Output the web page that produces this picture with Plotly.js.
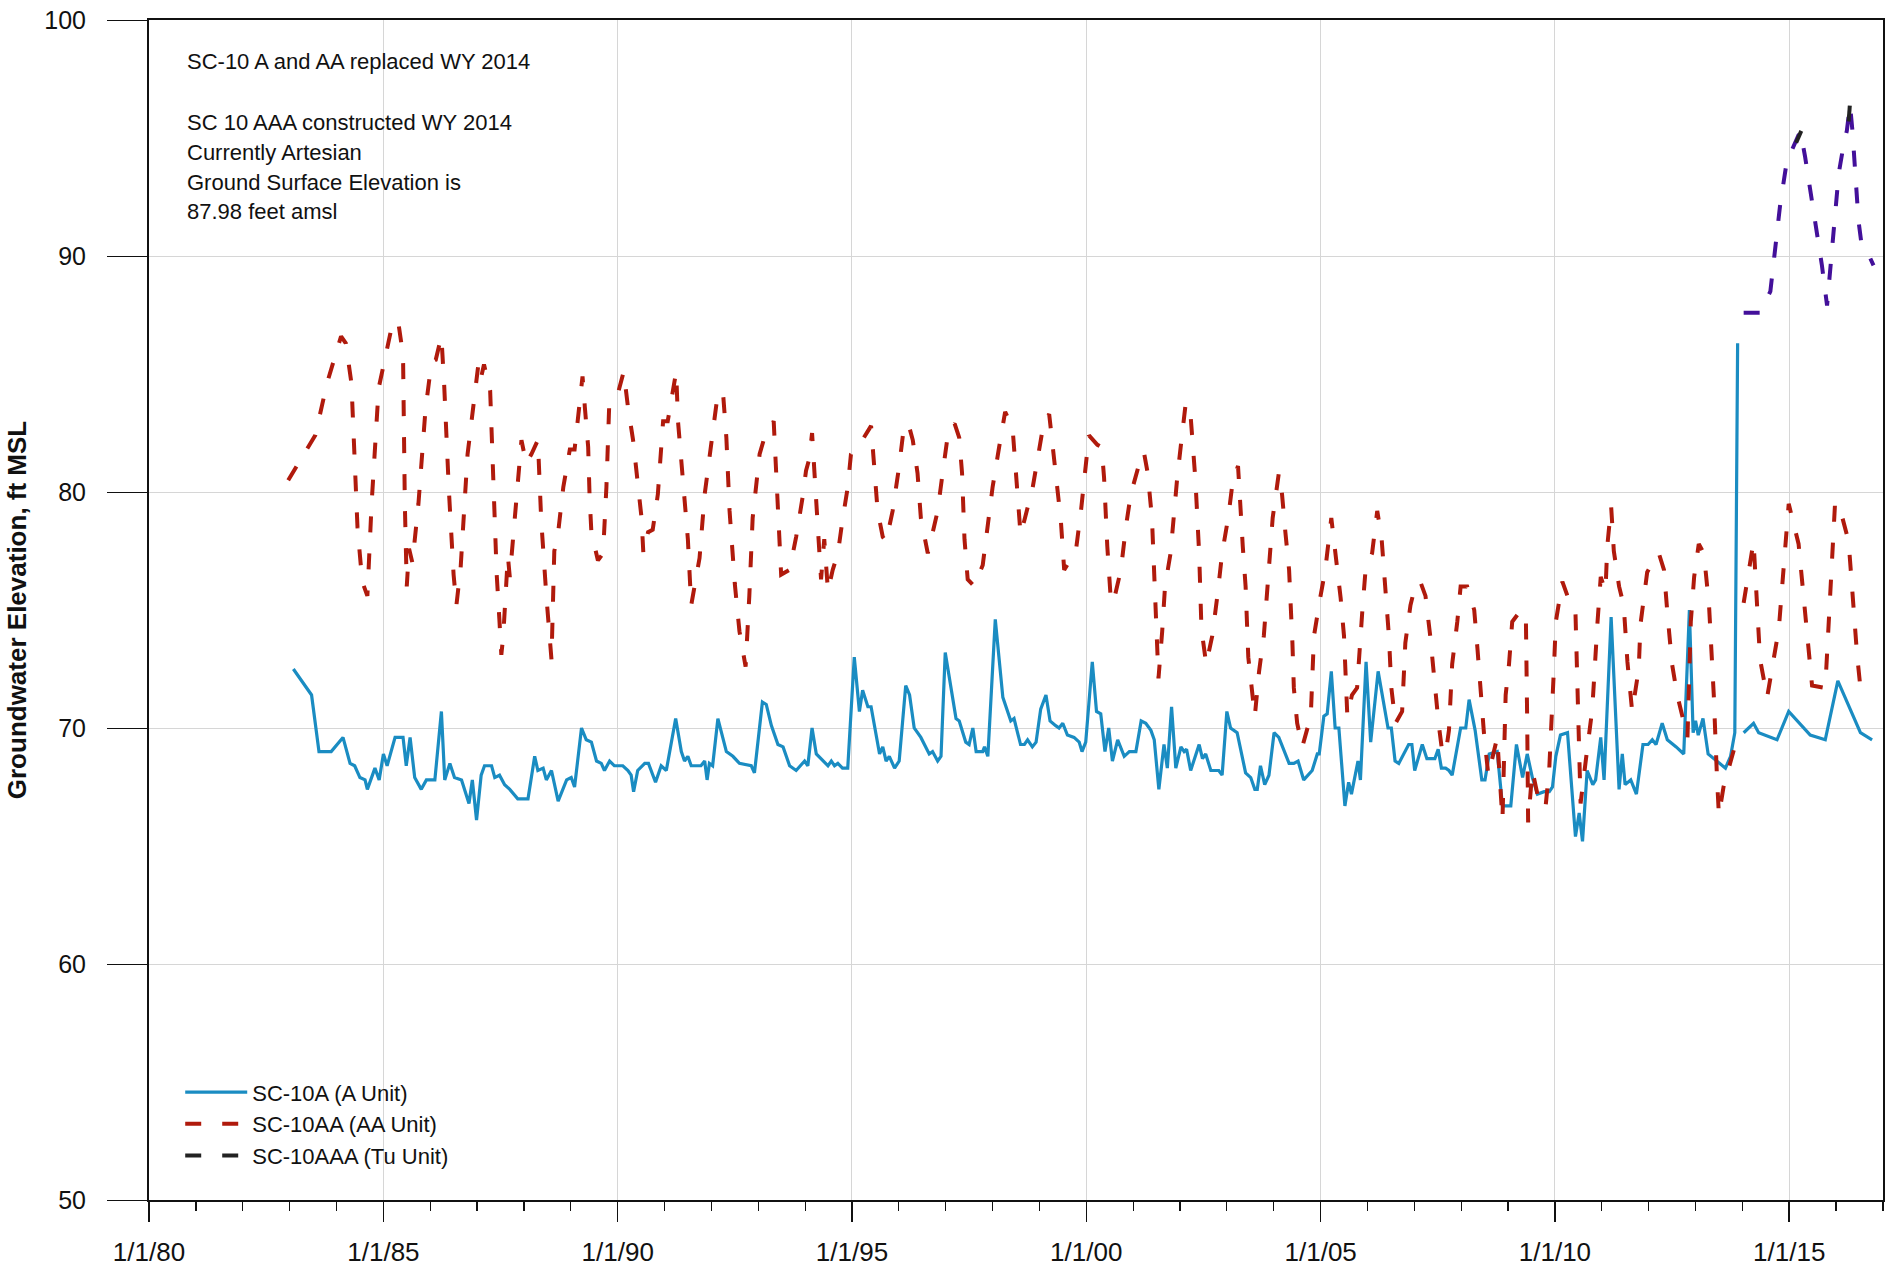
<!DOCTYPE html>
<html>
<head>
<meta charset="utf-8">
<script src="https://cdn.plot.ly/plotly-3.0.1.min.js"></script>
<style>
  html, body { margin: 0; padding: 0; background: #ffffff; }
  #chart { width: 1887px; height: 1275px; }
</style>
</head>
<body>
<div id="chart"></div>
<script>
// Well SC-10A (A Unit): decimal year / groundwater elevation (ft MSL)
const aYears = [
  1983.08, 1983.47, 1983.63, 1983.89, 1984.14, 1984.29, 1984.39, 1984.50, 1984.61, 1984.66,
  1984.82, 1984.91, 1985.00, 1985.08, 1985.25, 1985.42, 1985.49, 1985.57, 1985.67, 1985.81,
  1985.92, 1986.10, 1986.24, 1986.31, 1986.42, 1986.52, 1986.67, 1986.77, 1986.83, 1986.90,
  1986.99, 1987.09, 1987.16, 1987.31, 1987.38, 1987.48, 1987.59, 1987.70, 1987.87, 1988.09,
  1988.23, 1988.30, 1988.41, 1988.48, 1988.59, 1988.73, 1988.91, 1989.01, 1989.08, 1989.23,
  1989.33, 1989.44, 1989.55, 1989.65, 1989.72, 1989.83, 1989.93, 1990.11, 1990.22, 1990.29,
  1990.34, 1990.43, 1990.58, 1990.66, 1990.81, 1990.93, 1991.04, 1991.24, 1991.36, 1991.43,
  1991.50, 1991.57, 1991.78, 1991.86, 1991.91, 1991.96, 1992.03, 1992.14, 1992.32, 1992.46,
  1992.60, 1992.85, 1992.92, 1993.09, 1993.17, 1993.28, 1993.42, 1993.53, 1993.67, 1993.81,
  1993.99, 1994.06, 1994.15, 1994.24, 1994.38, 1994.49, 1994.56, 1994.63, 1994.70, 1994.80,
  1994.91, 1995.05, 1995.16, 1995.23, 1995.34, 1995.41, 1995.59, 1995.66, 1995.73, 1995.80,
  1995.91, 1996.01, 1996.15, 1996.23, 1996.33, 1996.47, 1996.65, 1996.72, 1996.83, 1996.90,
  1996.99, 1997.11, 1997.22, 1997.29, 1997.43, 1997.50, 1997.58, 1997.65, 1997.79, 1997.83,
  1997.90, 1998.06, 1998.22, 1998.39, 1998.46, 1998.60, 1998.68, 1998.75, 1998.85, 1998.93,
  1999.03, 1999.14, 1999.23, 1999.35, 1999.42, 1999.50, 1999.60, 1999.74, 1999.85, 1999.91,
  1999.99, 2000.13, 2000.22, 2000.31, 2000.40, 2000.48, 2000.56, 2000.67, 2000.81, 2000.92,
  2001.06, 2001.17, 2001.27, 2001.38, 2001.45, 2001.55, 2001.66, 2001.73, 2001.82, 2001.91,
  2002.02, 2002.09, 2002.14, 2002.23, 2002.41, 2002.48, 2002.55, 2002.66, 2002.83, 2002.90,
  2003.00, 2003.08, 2003.22, 2003.40, 2003.51, 2003.60, 2003.65, 2003.72, 2003.81, 2003.90,
  2004.01, 2004.11, 2004.33, 2004.43, 2004.52, 2004.64, 2004.82, 2004.93, 2004.97, 2005.07,
  2005.14, 2005.23, 2005.31, 2005.39, 2005.52, 2005.60, 2005.66, 2005.80, 2005.85, 2005.97,
  2006.07, 2006.23, 2006.35, 2006.44, 2006.51, 2006.59, 2006.67, 2006.78, 2006.88, 2006.95,
  2007.01, 2007.17, 2007.27, 2007.44, 2007.51, 2007.58, 2007.67, 2007.74, 2007.81, 2007.99,
  2008.10, 2008.17, 2008.30, 2008.44, 2008.51, 2008.60, 2008.77, 2008.88, 2009.06, 2009.18,
  2009.31, 2009.41, 2009.52, 2009.63, 2009.77, 2009.88, 2009.95, 2010.02, 2010.12, 2010.27,
  2010.34, 2010.44, 2010.52, 2010.59, 2010.69, 2010.81, 2010.87, 2010.98, 2011.05, 2011.20,
  2011.37, 2011.44, 2011.50, 2011.62, 2011.74, 2011.88, 2011.99, 2012.08, 2012.16, 2012.29,
  2012.40, 2012.59, 2012.75, 2012.87, 2012.95, 2013.00, 2013.06, 2013.16, 2013.27, 2013.39,
  2013.64, 2013.75, 2013.84, 2013.90, null,
  2014.03, 2014.24, 2014.35, 2014.74, 2014.99, 2015.45, 2015.77, 2016.04, 2016.52, 2016.77
];
const aLevels = [
  72.5, 71.4, 69.0, 69.0, 69.6, 68.5, 68.4, 67.9, 67.8, 67.4,
  68.3, 67.8, 68.9, 68.4, 69.6, 69.6, 68.4, 69.6, 67.9, 67.4,
  67.8, 67.8, 70.7, 67.8, 68.5, 67.9, 67.8, 67.2, 66.8, 67.8,
  66.1, 68.0, 68.4, 68.4, 67.9, 68.0, 67.6, 67.4, 67.0, 67.0,
  68.8, 68.2, 68.3, 67.8, 68.2, 66.9, 67.8, 67.9, 67.5, 70.0,
  69.5, 69.4, 68.6, 68.5, 68.2, 68.6, 68.4, 68.4, 68.2, 68.0,
  67.3, 68.2, 68.5, 68.5, 67.7, 68.4, 68.2, 70.4, 69.0, 68.6,
  68.8, 68.4, 68.4, 68.6, 67.8, 68.5, 68.4, 70.4, 69.0, 68.8,
  68.5, 68.4, 68.1, 71.1, 71.0, 70.1, 69.3, 69.2, 68.4, 68.2,
  68.6, 68.4, 70.0, 68.9, 68.6, 68.4, 68.6, 68.4, 68.5, 68.3,
  68.3, 73.0, 70.7, 71.6, 70.9, 70.9, 68.9, 69.2, 68.6, 68.8,
  68.3, 68.6, 71.8, 71.4, 70.0, 69.6, 68.9, 69.0, 68.6, 68.8,
  73.2, 71.8, 70.4, 70.3, 69.4, 69.3, 70.0, 69.0, 69.0, 69.2,
  68.8, 74.6, 71.3, 70.3, 70.4, 69.3, 69.3, 69.5, 69.2, 69.4,
  70.8, 71.4, 70.3, 70.1, 70.0, 70.2, 69.7, 69.6, 69.4, 69.0,
  69.4, 72.8, 70.7, 70.6, 69.0, 70.0, 68.6, 69.5, 68.8, 69.0,
  69.0, 70.3, 70.2, 69.9, 69.5, 67.4, 69.3, 68.3, 70.9, 68.3,
  69.2, 69.0, 69.1, 68.2, 69.3, 68.7, 68.9, 68.2, 68.2, 68.0,
  70.7, 70.0, 69.8, 68.1, 67.9, 67.4, 67.4, 68.4, 67.6, 68.0,
  69.8, 69.6, 68.5, 68.5, 68.6, 67.8, 68.2, 68.9, 68.9, 70.5,
  70.6, 72.4, 70.0, 70.0, 66.7, 67.7, 67.2, 68.6, 67.8, 72.8,
  69.4, 72.4, 71.0, 70.0, 70.0, 68.6, 68.5, 68.9, 69.3, 69.3,
  68.2, 69.3, 68.7, 68.7, 69.1, 68.3, 68.3, 68.2, 68.0, 70.0,
  70.0, 71.2, 69.9, 67.8, 67.8, 68.9, 69.0, 66.7, 66.7, 69.3,
  67.9, 68.9, 67.9, 67.2, 67.3, 67.3, 67.5, 68.8, 69.7, 69.8,
  68.0, 65.4, 66.4, 65.2, 68.2, 67.6, 67.8, 69.6, 67.8, 74.7,
  67.4, 68.9, 67.6, 67.8, 67.2, 69.3, 69.3, 69.5, 69.3, 70.2,
  69.5, 69.2, 68.9, 75.0, 69.8, 70.3, 69.7, 70.4, 68.9, 68.7,
  68.3, 68.8, 69.8, 86.3, null,
  69.8, 70.2, 69.8, 69.5, 70.7, 69.7, 69.5, 72.0, 69.8, 69.5
];

// Well SC-10AA (AA Unit)
const aaYears = [
  1982.97, 1983.55, 1983.80, 1984.10, 1984.20, 1984.32, 1984.45, 1984.55, 1984.66, 1984.75,
  1984.90, 1985.07, 1985.20, 1985.32, 1985.42, 1985.46, 1985.50, 1985.55, 1985.62, 1985.75,
  1985.90, 1986.03, 1986.12, 1986.24, 1986.30, 1986.40, 1986.50, 1986.56, 1986.65, 1986.80,
  1986.95, 1987.03, 1987.08, 1987.15, 1987.28, 1987.35, 1987.42, 1987.48, 1987.52, 1987.56,
  1987.66, 1987.70, 1987.84, 1987.95, 1988.05, 1988.16, 1988.30, 1988.37, 1988.48, 1988.59,
  1988.65, 1988.72, 1988.84, 1988.98, 1989.08, 1989.15, 1989.25, 1989.30, 1989.37, 1989.40,
  1989.44, 1989.58, 1989.69, 1989.76, 1989.82, 1990.01, 1990.13, 1990.22, 1990.33, 1990.51,
  1990.55, 1990.65, 1990.75, 1990.86, 1990.97, 1991.07, 1991.18, 1991.25, 1991.29, 1991.43,
  1991.50, 1991.57, 1991.75, 1991.86, 1992.07, 1992.14, 1992.25, 1992.32, 1992.39, 1992.50,
  1992.60, 1992.73, 1992.81, 1992.88, 1993.03, 1993.13, 1993.33, 1993.37, 1993.42, 1993.46,
  1993.49, 1993.67, 1993.81, 1993.95, 1994.02, 1994.09, 1994.15, 1994.20, 1994.24, 1994.29,
  1994.34, 1994.41, 1994.49, 1994.59, 1994.70, 1994.80, 1994.91, 1994.98, 1995.16, 1995.41,
  1995.48, 1995.55, 1995.66, 1995.73, 1995.87, 1996.01, 1996.12, 1996.23, 1996.30, 1996.40,
  1996.47, 1996.62, 1996.69, 1996.83, 1996.94, 1997.06, 1997.19, 1997.29, 1997.35, 1997.40,
  1997.47, 1997.61, 1997.79, 1997.90, 1998.00, 1998.14, 1998.27, 1998.43, 1998.49, 1998.54,
  1998.60, 1998.68, 1998.86, 1998.98, 1999.10, 1999.21, 1999.28, 1999.39, 1999.46, 1999.53,
  1999.78, 1999.89, 1999.99, 2000.06, 2000.24, 2000.33, 2000.38, 2000.45, 2000.53, 2000.60,
  2000.74, 2000.85, 2000.95, 2001.13, 2001.23, 2001.31, 2001.40, 2001.45, 2001.50, 2001.54,
  2001.62, 2001.68, 2001.80, 2001.87, 2001.94, 2002.02, 2002.12, 2002.21, 2002.26, 2002.33,
  2002.41, 2002.46, 2002.56, 2002.69, 2002.80, 2002.90, 2003.03, 2003.13, 2003.24, 2003.29,
  2003.34, 2003.40, 2003.46, 2003.60, 2003.69, 2003.79, 2003.86, 2003.93, 2003.98, 2004.11,
  2004.18, 2004.25, 2004.33, 2004.40, 2004.43, 2004.50, 2004.61, 2004.79, 2004.86, 2004.99,
  2005.10, 2005.23, 2005.32, 2005.43, 2005.50, 2005.57, 2005.67, 2005.78, 2005.89, 2005.96,
  2006.10, 2006.21, 2006.30, 2006.39, 2006.46, 2006.51, 2006.60, 2006.74, 2006.81, 2006.92,
  2007.03, 2007.13, 2007.24, 2007.34, 2007.41, 2007.52, 2007.59, 2007.67, 2007.74, 2007.81,
  2007.92, 2007.99, 2008.13, 2008.28, 2008.35, 2008.42, 2008.49, 2008.58, 2008.67, 2008.77,
  2008.88, 2008.92, 2008.95, 2009.02, 2009.09, 2009.24, 2009.38, 2009.41, 2009.43, 2009.52,
  2009.66, 2009.80, 2009.88, 2009.98, 2010.02, 2010.16, 2010.34, 2010.44, 2010.48, 2010.51,
  2010.55, 2010.66, 2010.80, 2010.91, 2010.98, 2011.08, 2011.12, 2011.20, 2011.26, 2011.37,
  2011.47, 2011.55, 2011.65, 2011.79, 2011.83, 2011.97, 2012.08, 2012.22, 2012.33, 2012.40,
  2012.50, 2012.61, 2012.83, 2012.90, 2012.97, 2013.07, 2013.18, 2013.29, 2013.39, 2013.46,
  2013.50, 2013.60, 2013.71, 2013.85, null,
  2014.03, 2014.24, 2014.38, 2014.53, 2014.78, 2014.92, 2014.99, 2015.20, 2015.42, 2015.49,
  2015.77, 2015.84, 2015.98, 2016.06, 2016.27, 2016.45, 2016.52, 2016.62
];
const aaLevels = [
  80.5, 82.4, 84.6, 86.6, 86.3, 84.6, 78.5, 76.2, 75.6, 79.5,
  84.4, 85.9, 87.2, 87.2, 85.8, 79.5, 76.0, 77.6, 77.0, 79.5,
  83.5, 85.5, 85.6, 86.6, 84.5, 80.0, 76.5, 75.2, 76.8, 81.6,
  84.0, 85.4, 84.8, 85.4, 84.3, 80.0, 76.5, 74.5, 73.1, 73.9,
  77.3, 76.4, 79.5, 82.2, 81.2, 81.6, 82.2, 78.8, 75.6, 72.9,
  77.5, 78.1, 80.2, 81.8, 81.8, 83.0, 84.9, 83.6, 81.9, 79.8,
  78.3, 77.1, 77.4, 80.2, 83.7, 84.2, 85.1, 83.6, 82.2, 78.9,
  77.4, 78.3, 78.4, 79.9, 83.0, 83.0, 84.4, 85.1, 83.0, 79.8,
  78.0, 75.2, 77.2, 79.9, 83.0, 84.2, 84.2, 82.3, 79.2, 76.1,
  74.1, 72.6, 75.6, 78.9, 81.6, 82.3, 83.0, 81.1, 79.5, 78.0,
  76.5, 76.7, 78.1, 79.8, 80.9, 81.4, 82.5, 80.8, 79.5, 77.7,
  76.3, 78.0, 75.8, 76.7, 77.4, 78.8, 80.2, 81.6, 82.0, 82.8,
  81.1, 79.2, 78.1, 77.9, 79.2, 81.1, 82.9, 82.7, 82.2, 80.8,
  78.9, 77.4, 78.0, 79.2, 80.9, 82.6, 82.9, 82.3, 80.8, 78.0,
  76.3, 76.0, 76.9, 78.6, 80.2, 81.9, 83.4, 82.7, 81.1, 79.2,
  78.2, 78.8, 80.2, 81.6, 83.0, 83.3, 82.0, 80.2, 78.8, 76.7,
  77.5, 79.2, 80.9, 82.4, 82.0, 81.9, 80.6, 77.7, 75.3, 75.5,
  76.7, 78.6, 79.9, 81.2, 81.7, 80.8, 78.9, 76.5, 73.5, 72.1,
  74.1, 76.0, 77.4, 79.1, 80.6, 82.0, 83.7, 83.7, 82.2, 80.5,
  77.4, 74.2, 72.7, 73.9, 75.6, 77.4, 78.9, 80.5, 81.1, 79.2,
  77.7, 76.0, 73.0, 70.5, 72.4, 73.9, 75.6, 77.4, 78.9, 80.8,
  79.9, 78.3, 76.7, 73.6, 71.7, 70.2, 69.2, 70.5, 73.9, 75.5,
  76.7, 78.9, 77.4, 75.5, 73.9, 70.5, 71.4, 71.7, 74.9, 76.7,
  77.4, 79.2, 78.1, 75.5, 73.9, 71.7, 70.2, 70.7, 73.6, 75.2,
  76.1, 76.2, 75.6, 73.9, 72.4, 70.2, 69.1, 68.9, 69.9, 72.7,
  74.5, 76.0, 76.0, 75.0, 73.3, 71.4, 69.7, 68.0, 68.8, 69.6,
  66.1, 68.6, 71.4, 72.7, 74.5, 74.9, 74.9, 70.2, 66.0, 68.2,
  66.9, 66.6, 68.3, 72.5, 74.5, 76.2, 75.2, 74.9, 71.8, 68.9,
  66.8, 68.6, 70.8, 74.5, 76.4, 75.8, 77.7, 79.4, 77.5, 76.0,
  75.2, 72.8, 70.7, 72.5, 74.4, 76.6, 77.0, 77.4, 76.7, 74.9,
  72.7, 71.4, 69.6, 74.5, 76.4, 77.8, 77.4, 75.2, 71.4, 67.9,
  66.3, 67.5, 68.3, 69.3, null,
  75.3, 77.9, 72.9, 71.3, 74.2, 77.7, 79.5, 77.8, 72.9, 71.8,
  71.7, 74.2, 79.5, 79.5, 77.9, 73.1, 71.7, 72.0
];

// Well SC-10AAA (Tu Unit), continuous record
const aaaYears = [
  2014.03, 2014.38, 2014.60, 2014.81, 2014.95, 2015.13, 2015.24, 2015.34, 2015.52, 2015.70,
  2015.81, 2015.88, 2016.06, 2016.18, 2016.23, 2016.30, 2016.35, 2016.48, 2016.55, 2016.73,
  2016.80
];
const aaaLevels = [
  87.6, 87.6, 88.5, 92.2, 94.0, 94.8, 95.3, 94.2, 92.0, 89.6,
  87.9, 89.6, 93.5, 94.9, 95.3, 96.4, 95.3, 91.5, 90.4, 89.9,
  89.6
];

// Well SC-10AAA (Tu Unit), seasonal high readings
const aaaPeakYears = [2015.15, 2015.26, null, 2016.27, 2016.30];
const aaaPeakLevels = [94.8, 95.3, null, 95.7, 96.5];

// Notes printed in the upper-left corner of the plot
const noteLines = [
  'SC-10 A and AA replaced WY 2014',
  'SC 10 AAA constructed WY 2014',
  'Currently Artesian',
  'Ground Surface Elevation is',
  '87.98 feet amsl'
];
const noteLevels = [98.25, 95.65, 94.38, 93.11, 91.88];

// Convert a decimal year into an ISO date string for the date axis
function yearToDate(y) {
  if (y === null) return null;
  const yr = Math.floor(y);
  const start = Date.UTC(yr, 0, 1);
  const end = Date.UTC(yr + 1, 0, 1);
  return new Date(start + (y - yr) * (end - start)).toISOString().slice(0, 10);
}

const FONT = 'Liberation Sans, Arial, Helvetica, sans-serif';
const DASH = '16px,21px';

const traces = [
  {
    name: 'SC-10A (A Unit)',
    x: aYears.map(yearToDate), y: aLevels,
    type: 'scatter', mode: 'lines', connectgaps: false,
    line: { color: '#1a8cc2', width: 3.2 }
  },
  {
    name: 'SC-10AA (AA Unit)',
    x: aaYears.map(yearToDate), y: aaLevels,
    type: 'scatter', mode: 'lines', connectgaps: false,
    line: { color: '#b01a0c', width: 4, dash: DASH }
  },
  {
    name: 'SC-10AAA transducer',
    x: aaaYears.map(yearToDate), y: aaaLevels,
    type: 'scatter', mode: 'lines', showlegend: false,
    line: { color: '#43109a', width: 4, dash: DASH }
  },
  {
    name: 'SC-10AAA (Tu Unit)',
    x: aaaPeakYears.map(yearToDate), y: aaaPeakLevels,
    type: 'scatter', mode: 'lines', connectgaps: false,
    line: { color: '#222222', width: 4, dash: DASH }
  }
];

const annotations = noteLines.map((t, i) => ({
  text: t, xref: 'paper', yref: 'y',
  x: 36 / 1734, y: noteLevels[i],
  xanchor: 'left', yanchor: 'middle', showarrow: false,
  font: { family: FONT, size: 22, color: '#111111' }
}));

const layout = {
  width: 1887, height: 1275,
  margin: { l: 149, r: 4, t: 20, b: 75 },
  paper_bgcolor: '#ffffff', plot_bgcolor: '#ffffff',
  font: { family: FONT, color: '#111111' },
  showlegend: true,
  legend: {
    x: 0.018, y: 0.02, xanchor: 'left', yanchor: 'bottom',
    bgcolor: 'rgba(0,0,0,0)', borderwidth: 0,
    itemwidth: 62,
    font: { family: FONT, size: 22, color: '#111111' },
    traceorder: 'normal'
  },
  xaxis: {
    type: 'date',
    range: ['1980-01-01', '2017-01-01'],
    tick0: '1980-01-01', dtick: 'M60',
    tickformat: '%-m/%-d/%y',
    ticks: 'outside', ticklen: 20, tickwidth: 1.5, tickcolor: '#111111',
    ticklabelstandoff: 8,
    tickfont: { family: FONT, size: 26, color: '#111111' },
    showgrid: true, gridcolor: '#d6d6d6', gridwidth: 1,
    showline: true, linecolor: '#111111', linewidth: 2, mirror: true,
    zeroline: false,
    minor: { dtick: 'M12', tick0: '1980-01-01', ticks: 'outside', ticklen: 9, tickwidth: 1.2, tickcolor: '#111111', showgrid: false }
  },
  yaxis: {
    range: [50, 100], dtick: 10, tick0: 50,
    ticks: 'outside', ticklen: 40, tickwidth: 1, tickcolor: '#111111',
    ticklabelstandoff: 16,
    tickfont: { family: FONT, size: 25, color: '#111111' },
    showgrid: true, gridcolor: '#d6d6d6', gridwidth: 1,
    showline: true, linecolor: '#111111', linewidth: 2, mirror: true,
    zeroline: false,
    title: {
      text: '<b>Groundwater Elevation, ft MSL</b>',
      font: { family: FONT, size: 26, color: '#111111' },
      standoff: 10
    }
  },
  annotations: annotations
};

Plotly.newPlot('chart', traces, layout, { displayModeBar: false, staticPlot: true });
</script>
</body>
</html>
